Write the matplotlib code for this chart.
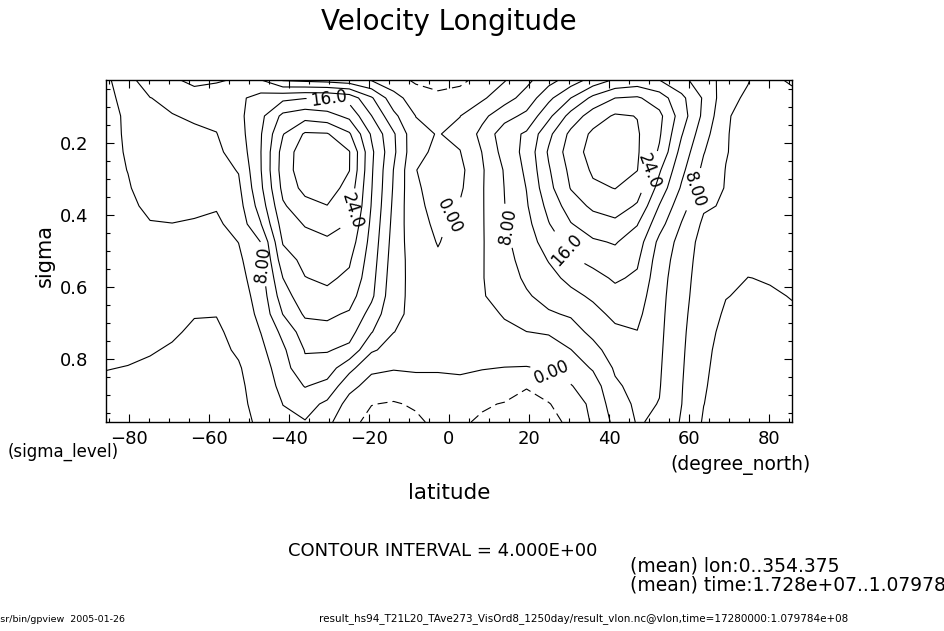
import numpy as np
import matplotlib
matplotlib.use('Agg')
import matplotlib.pyplot as plt

# T21 gaussian latitudes and L20 sigma levels
lat = [-85.761, -80.269, -74.745, -69.213, -63.679, -58.143, -52.607, -47.070,
       -41.532, -35.995, -30.458, -24.920, -19.382, -13.844, -8.306, -2.769,
       2.769, 8.306, 13.844, 19.382, 24.920, 30.458, 35.995, 41.532,
       47.070, 52.607, 58.143, 63.679, 69.213, 74.745, 80.269, 85.761]
sigma = [0.025, 0.075, 0.125, 0.175, 0.225, 0.275, 0.325, 0.375, 0.425, 0.475,
         0.525, 0.575, 0.625, 0.675, 0.725, 0.775, 0.825, 0.875, 0.925, 0.975]

# zonal/time mean zonal wind [m/s], one list per sigma level (south -> north)
u_sig025 = [3.0, 7.2, 9.4, 8.3, 7.5, 7.7, 8.3, 8.1, 3.6, 3.0, 2.5, 1.6, -0.3, -2.5, -4.6, -5.5,
            -4.8, -2.8, -0.3, 3.0, 6.5, 9.8, 13.5, 16.5, 17.5, 16.0, 13.0, 10.0, 6.5, 4.3, 0.8, -0.5]
u_sig075 = [3.1, 5.1, 7.95, 8.6, 8.9, 9.5, 11.2, 13.5, 15.0, 15.8, 15.8, 14.5, 8.5, 1.5, -2.0, -3.0,
            -2.5, -0.6, 2.4, 5.5, 11.0, 16.0, 21.0, 24.0, 24.5, 22.0, 17.0, 11.5, 5.5, 3.2, 2.5, 1.0]
u_sig125 = [3.2, 4.4, 7.5, 7.9, 8.3, 8.8, 11.0, 15.0, 21.0, 22.5, 21.5, 19.0, 12.1, 5.0, -0.05, -1.2,
            -0.05, 3.0, 6.5, 9.0, 15.0, 21.5, 26.0, 28.5, 27.9, 25.0, 18.0, 11.0, 4.6, 2.0, 2.8, 1.8]
u_sig175 = [3.3, 4.3, 7.0, 7.3, 7.6, 7.9, 10.4, 15.7, 23.8, 28.5, 28.3, 24.5, 15.5, 8.5, 0.85, -0.15,
            0.8, 5.1, 10.2, 12.6, 19.0, 25.0, 28.8, 31.0, 28.4, 24.5, 16.3, 9.5, 4.3, 2.3, 2.6, 1.9]
u_sig225 = [3.3, 4.2, 6.5, 6.7, 7.0, 7.3, 9.5, 15.9, 25.5, 30.5, 30.8, 28.2, 16.8, 8.8, 0.75, -0.6,
            -0.1, 4.1, 9.5, 13.2, 20.5, 26.0, 29.5, 31.3, 28.4, 23.5, 14.5, 8.2, 4.2, 2.5, 2.5, 1.9]
u_sig275 = [3.2, 4.05, 6.0, 6.1, 6.4, 6.7, 8.2, 15.8, 25.8, 30.5, 31.0, 28.1, 16.5, 7.9, 0.05, -1.0,
            -1.0, 3.6, 8.3, 12.8, 19.6, 25.0, 28.6, 30.2, 28.1, 20.5, 13.0, 7.0, 3.9, 2.6, 2.4, 1.8]
u_sig325 = [3.0, 3.8, 5.1, 5.5, 5.7, 6.0, 7.3, 15.2, 25.0, 29.3, 30.0, 26.5, 16.2, 7.6, 0.3, -0.9,
            -0.6, 3.7, 8.05, 12.1, 18.8, 24.2, 27.3, 28.1, 26.0, 18.5, 11.5, 6.0, 3.8, 2.6, 2.2, 1.7]
u_sig375 = [2.8, 3.6, 4.4, 4.9, 4.9, 4.3, 6.5, 13.8, 23.5, 26.5, 27.9, 25.5, 15.8, 7.2, 0.5, -0.7,
            0.3, 3.7, 7.9, 11.6, 17.2, 22.0, 24.8, 26.0, 23.5, 15.8, 9.5, 4.5, 3.6, 2.5, 2.0, 1.5]
u_sig425 = [2.6, 3.3, 3.9, 3.95, 3.6, 3.3, 5.6, 11.8, 21.8, 24.3, 25.5, 23.8, 15.2, 6.8, 0.9, -0.5,
            0.8, 3.7, 7.6, 10.8, 15.8, 19.8, 22.0, 23.0, 20.2, 13.5, 7.8, 3.3, 3.3, 2.3, 1.7, 1.3]
u_sig475 = [2.4, 3.0, 3.6, 3.6, 3.0, 2.6, 4.05, 8.05, 20.3, 22.5, 23.3, 22.2, 14.6, 6.4, 1.5, -0.15,
            1.2, 3.7, 7.2, 10.0, 14.0, 17.5, 19.5, 20.3, 18.0, 11.0, 6.5, 2.5, 3.0, 2.0, 1.3, 1.0]
u_sig525 = [2.2, 2.7, 3.3, 3.2, 2.3, 2.0, 3.3, 7.0, 18.3, 21.0, 21.8, 20.5, 14.0, 6.0, 2.2, 0.4,
            1.6, 3.75, 6.8, 9.3, 12.2, 15.5, 17.0, 18.5, 16.6, 10.0, 6.0, 2.2, 2.4, 1.0, 0.8, 0.6]
u_sig575 = [2.0, 2.4, 3.0, 2.8, 1.7, 1.4, 2.7, 6.3, 16.0, 19.9, 20.6, 19.3, 13.4, 5.6, 2.6, 0.8,
            2.0, 3.8, 6.3, 8.6, 10.8, 13.0, 14.8, 16.5, 15.4, 9.5, 5.6, 2.0, 1.6, -0.05, 0.2, 0.2]
u_sig625 = [1.7, 2.0, 2.6, 2.2, 1.0, 0.8, 2.1, 5.6, 14.2, 18.5, 19.2, 17.5, 12.8, 5.2, 2.9, 1.2,
            2.3, 3.7, 5.6, 7.6, 9.2, 11.0, 12.6, 14.8, 14.0, 9.2, 5.3, 1.8, 0.1, -0.4, -0.3, 0.1]
u_sig675 = [1.4, 1.6, 2.1, 1.4, 0.2, 0.1, 1.5, 5.0, 12.1, 16.6, 16.6, 15.6, 10.5, 4.8, 3.1, 1.6,
            2.5, 3.2, 4.2, 6.0, 7.6, 8.4, 10.8, 12.9, 12.9, 9.0, 5.0, 1.5, -0.4, -0.8, -0.8, -0.3]
u_sig725 = [1.0, 1.1, 1.4, 0.5, -0.6, -0.5, 1.0, 4.05, 9.0, 14.0, 15.0, 13.5, 8.2, 4.05, 3.0, 2.0,
            2.5, 2.6, 3.5, 3.95, 4.3, 6.5, 8.9, 11.2, 11.9, 8.8, 4.8, 1.0, -0.8, -1.1, -1.2, -0.7]
u_sig775 = [0.6, 0.6, 0.3, -0.4, -1.2, -0.8, 0.4, 3.0, 7.3, 12.2, 12.3, 11.0, 4.5, 2.6, 2.0, 1.5,
            2.0, 1.8, 2.0, 2.0, 2.5, 3.9, 6.8, 9.8, 10.8, 8.6, 4.6, 0.7, -1.1, -1.3, -1.5, -1.0]
u_sig825 = [0.1, -0.1, -0.6, -1.2, -1.6, -0.9, -0.3, 2.0, 6.2, 11.2, 10.0, 5.2, 0.8, 0.3, 0.5, 0.4,
            0.6, 0.2, -0.1, -0.2, 0.3, 1.8, 4.4, 8.5, 9.9, 8.4, 4.4, 0.5, -1.3, -1.5, -1.7, -1.2]
u_sig875 = [-0.6, -0.8, -1.5, -1.8, -1.9, -0.9, -0.5, 1.2, 5.3, 8.2, 6.8, 1.2, -1.5, -2.2, -1.5, -1.2,
            -1.0, -1.8, -2.2, -3.8, -2.0, -0.2, 2.0, 7.4, 9.2, 8.2, 4.2, 0.3, -1.5, -1.7, -1.8, -1.4]
u_sig925 = [-1.1, -1.3, -2.0, -2.2, -2.0, -0.8, -0.5, 0.7, 4.05, 5.5, 3.2, -1.5, -3.9, -4.3, -3.6, -2.5,
            -2.6, -3.6, -4.2, -5.0, -4.2, -2.0, 0.9, 6.2, 8.7, 7.9, 4.05, 0.05, -1.6, -1.8, -1.9, -1.5]
u_sig975 = [-1.3, -1.5, -2.2, -2.3, -2.0, -0.6, -0.5, 0.3, 3.3, 3.8, 1.0, -3.0, -5.0, -5.5, -4.6, -3.2,
            -3.5, -4.5, -5.8, -6.5, -5.5, -3.0, 0.5, 5.0, 8.3, 7.4, 3.6, -0.4, -1.6, -1.8, -1.9, -1.5]

u = np.array([u_sig025, u_sig075, u_sig125, u_sig175, u_sig225, u_sig275, u_sig325,
              u_sig375, u_sig425, u_sig475, u_sig525, u_sig575, u_sig625, u_sig675,
              u_sig725, u_sig775, u_sig825, u_sig875, u_sig925, u_sig975])

interval = 4.0
plain_levels = [-4, 4, 12, 20, 28]
labeled_levels = [0, 8, 16, 24]
label_fmt = {0: '0.00', 8: '8.00', 16: '16.0', 24: '24.0'}
label_pos = [(-30.3, 0.091), (-24.3, 0.388), (-45.3, 0.535), (0.7, 0.405),
             (13.9, 0.432), (30.7, 0.488), (49.2, 0.277), (60.9, 0.327), (24.7, 0.855)]

plt.rcParams['lines.dashed_pattern'] = [9.0, 4.5]

W, H = 945, 631
fig = plt.figure(figsize=(W / 100, H / 100), dpi=100)
ax = fig.add_axes([106 / W, 1 - 422 / H, 686 / W, 342 / H])

# every other level carries a label, so they get their own contour set
ax.contour(lat, sigma, u, levels=plain_levels, colors='k', linewidths=0.8)
cs = ax.contour(lat, sigma, u, levels=labeled_levels, colors='k', linewidths=0.8)
ax.clabel(cs, fmt=label_fmt, manual=label_pos, inline=True, inline_spacing=4, fontsize=12)

ax.set_xlim(lat[0], lat[-1])
ax.set_ylim(sigma[-1], sigma[0])
ax.set_xticks(np.arange(-80, 81, 20))
ax.set_xticks(np.arange(-85, 86, 5), minor=True)
ax.set_yticks([0.2, 0.4, 0.6, 0.8])
ax.set_yticks(np.arange(0.05, 0.96, 0.05), minor=True)
ax.tick_params(which='both', direction='in', top=True, right=True, width=0.8)
ax.tick_params(which='major', length=6, labelsize=13)
ax.tick_params(which='minor', length=3)
ax.tick_params(axis='y', pad=13)
ax.tick_params(axis='x', pad=6)
for s in ax.spines.values():
    s.set_linewidth(1.0)

fig.text(449 / W, 1 - 22 / H, 'Velocity Longitude', ha='center', va='center', fontsize=20)
fig.text(45 / W, 1 - 255 / H, 'sigma', rotation=90, ha='center', va='center', fontsize=15)
fig.text(8 / W, 1 - 452 / H, '(sigma_level)', ha='left', va='center', fontsize=12)
fig.text(670 / W, 1 - 465 / H, '(degree_north)', ha='left', va='center', fontsize=13.5)
fig.text(449 / W, 1 - 493 / H, 'latitude', ha='center', va='center', fontsize=15.5)
fig.text(443 / W, 1 - 551 / H, 'CONTOUR INTERVAL = %.3E' % interval,
         ha='center', va='center', fontsize=13)
fig.text(630 / W, 1 - 566 / H, '(mean) lon:0..354.375', ha='left', va='center', fontsize=13.5)
fig.text(630 / W, 1 - 585 / H, '(mean) time:1.728e+07..1.079784e+08',
         ha='left', va='center', fontsize=13.5)
fig.text(-9 / W, 1 - 619 / H, '/usr/bin/gpview  2005-01-26', ha='left', va='center', fontsize=6.8)
fig.text(584 / W, 1 - 619 / H,
         'result_hs94_T21L20_TAve273_VisOrd8_1250day/result_vlon.nc@vlon,time=17280000:1.079784e+08',
         ha='center', va='center', fontsize=7.5)

fig.savefig('out.png', dpi=100)
